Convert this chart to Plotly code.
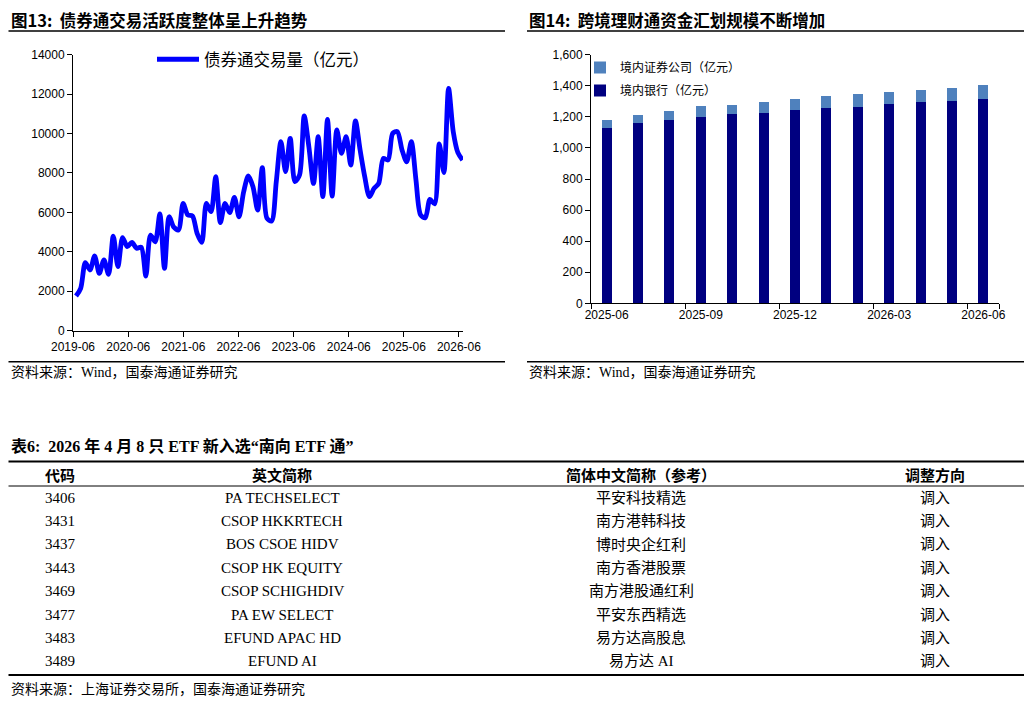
import pandas as pd
import plotly.graph_objects as go

# The page body has an 8px margin, so the figure is laid out in page pixels
# shifted by that offset.
OFF = 8
W, H = 1032 - OFF, 706 - OFF

# ---------------- data ----------------
bond_connect_volume = [
    1760, 2150, 3450, 3080, 3790, 2910, 3590, 2860, 4800, 3250,
    4720, 4260, 4480, 4180, 4230, 2770, 4850, 4510, 5920, 3160,
    5780, 5250, 5110, 6460, 5870, 5820, 4940, 4480, 6460, 6040,
    7810, 5480, 6460, 5990, 6760, 5780, 7050, 7850, 7300, 6120,
    8270, 5700, 5560, 7560, 9590, 8070, 9760, 7560, 7900, 10890,
    9330, 7470, 9840, 6800, 10720, 6830, 10180, 9000, 9840, 8400,
    10640, 9170, 7810, 6800, 7220, 7470, 8740, 8660, 10010, 10100,
    9170, 8570, 9590, 7640, 5870, 5730, 6660, 6430, 9470, 8020,
    12290, 10100, 9030, 8660,
]
bond_dates = pd.date_range("2019-06-21", "2026-06-25", periods=len(bond_connect_volume))
left_tick_dates = ["2019-06-01", "2020-06-01", "2021-06-01", "2022-06-01",
                   "2023-06-01", "2024-06-01", "2025-06-01", "2026-06-01"]
left_tick_text = ["2019-06", "2020-06", "2021-06", "2022-06",
                  "2023-06", "2024-06", "2025-06", "2026-06"]

wmc_months = ["2025-06", "2025-07", "2025-08", "2025-09", "2025-10", "2025-11", "2025-12",
              "2026-01", "2026-02", "2026-03", "2026-04", "2026-05", "2026-06"]
wmc_bank = [1130, 1162, 1182, 1201, 1220, 1227, 1246, 1259, 1265, 1285, 1298, 1304, 1315]
wmc_securities = [50, 48, 58, 67, 56, 68, 69, 75, 82, 77, 75, 79, 88]
right_tick_months = ["2025-06", "2025-09", "2025-12", "2026-03", "2026-06"]

etf_codes = ["3406", "3431", "3437", "3443", "3469", "3477", "3483", "3489"]
etf_en = ["PA TECHSELECT", "CSOP HKKRTECH", "BOS CSOE HIDV", "CSOP HK EQUITY",
          "CSOP SCHIGHDIV", "PA EW SELECT", "EFUND APAC HD", "EFUND AI"]
etf_cn = ["平安科技精选", "南方港韩科技", "博时央企红利", "南方香港股票",
          "南方港股通红利", "平安东西精选", "易方达高股息", "易方达 AI"]
etf_dir = ["调入"] * 8
table_headers = ["代码", "英文简称", "简体中文简称（参考）", "调整方向"]

# ---------------- helpers ----------------
def px(x):
    return (x - OFF) / W

def py(y):
    return 1 - (y - OFF) / H

CJK = "Noto Sans CJK SC"
SERIF = "Liberation Serif, Noto Sans CJK SC"
SANS = "Liberation Sans, Arial, sans-serif"

fig = go.Figure()

# left chart: line
fig.add_trace(go.Scatter(
    x=bond_dates, y=bond_connect_volume, mode="lines",
    line=dict(color="#0000FF", width=4.8, shape="spline", smoothing=0.8),
    name="债券通交易量（亿元）", xaxis="x", yaxis="y", legend="legend", showlegend=True,
))

# right chart: stacked bars
fig.add_trace(go.Bar(
    x=wmc_months, y=wmc_bank, name="境内银行（亿元）", marker_color="#000080",
    marker_line_width=0, xaxis="x2", yaxis="y2", legend="legend2", legendrank=2,
    legendgroup="bank", showlegend=True,
))
fig.add_trace(go.Bar(
    x=wmc_months, y=wmc_securities, name="境内证券公司（亿元）", marker_color="#4F81BD",
    marker_line_width=0, xaxis="x2", yaxis="y2", legend="legend2", legendrank=1,
    legendgroup="sec", showlegend=True,
))

axis_common = dict(showline=True, linecolor="black", linewidth=1, ticks="outside",
                   ticklen=5, tickcolor="black", tickwidth=1, showgrid=False, zeroline=False,
                   automargin=False, tickangle=0,
                   tickfont=dict(family=SANS, size=12, color="black"))

fig.update_layout(
    template="none", showlegend=True,
    width=W, height=H, margin=dict(l=0, r=0, t=0, b=0, pad=0, autoexpand=False),
    paper_bgcolor="white", plot_bgcolor="white",
    barmode="stack", bargap=0.68,
    xaxis=dict(domain=[px(73), px(463)], anchor="y", type="date",
               range=["2019-06-01", "2026-06-28"],
               tickvals=left_tick_dates, ticktext=left_tick_text, **axis_common),
    yaxis=dict(domain=[py(330.7), py(54.7)], anchor="x", range=[0, 14000],
               tickvals=list(range(0, 14001, 2000)), tickformat="d", **axis_common),
    xaxis2=dict(domain=[px(591), px(999)], anchor="y2", type="category",
                range=[-0.5, 12.5], tickvals=right_tick_months, tickson="boundaries",
                **axis_common),
    yaxis2=dict(domain=[py(303.3), py(54.7)], anchor="x2", range=[0, 1600],
                dtick=200, tickformat=",", **axis_common),
    legend=dict(x=px(152), y=py(42), xanchor="left", yanchor="top", orientation="v",
                itemwidth=42, bgcolor="rgba(0,0,0,0)",
                font=dict(family=CJK, size=16.5, color="black")),
    legend2=dict(x=px(580), y=py(53), xanchor="left", yanchor="top", orientation="v",
                 traceorder="grouped", tracegroupgap=4, bgcolor="rgba(0,0,0,0)",
                 font=dict(family=CJK, size=12, color="black"), itemwidth=30),
)

shapes = []
annotations = []

def hline(x0, x1, y, w=1.2):
    shapes.append(dict(type="line", xref="paper", yref="paper", x0=px(x0), x1=px(x1),
                       y0=py(y), y1=py(y), line=dict(color="black", width=w)))

def text(x, y, s, size, family, anchor="left", bold=False):
    annotations.append(dict(xref="paper", yref="paper", x=px(x), y=py(y), text=(f"<b>{s}</b>" if bold else s),
                            showarrow=False, xanchor=anchor, yanchor="middle",
                            font=dict(family=family, size=size, color="black")))

LEFT = 8.5
# chart titles and source lines
text(LEFT, 20, "图13:  债券通交易活跃度整体呈上升趋势", 16.5, CJK, bold=True)
text(527, 20, "图14:  跨境理财通资金汇划规模不断增加", 16.5, CJK, bold=True)
hline(LEFT, 505, 31, 1.5)
hline(527, 1027, 31, 1.5)
hline(LEFT, 505, 361.7, 1.5)
hline(527, 1027, 361.7, 1.5)
text(LEFT, 373, "资料来源：Wind，国泰海通证券研究", 14, SERIF)
text(527, 373, "资料来源：Wind，国泰海通证券研究", 14, SERIF)

# table
text(LEFT, 446, "表6:  2026 年 4 月 8 只 ETF 新入选“南向 ETF 通”", 16, SERIF, bold=True)
hline(LEFT, 1027, 461.5, 2)
col_x = [60, 282, 641, 935]
for cx, hdr in zip(col_x, table_headers):
    text(cx, 474, hdr, 15, CJK, anchor="center", bold=True)
hline(LEFT, 1027, 486, 1)
row_y0, row_step = 497.5, 23.4
for i, (c, e, n, d) in enumerate(zip(etf_codes, etf_en, etf_cn, etf_dir)):
    yy = row_y0 + i * row_step
    for cx, s in zip(col_x, [c, e, n, d]):
        text(cx, yy, s, 15, SERIF, anchor="center")
hline(LEFT, 1027, 675, 2)
text(LEFT, 689, "资料来源：上海证券交易所，国泰海通证券研究", 14, SERIF)

fig.update_layout(shapes=shapes, annotations=annotations)
fig.write_html("out.html")
